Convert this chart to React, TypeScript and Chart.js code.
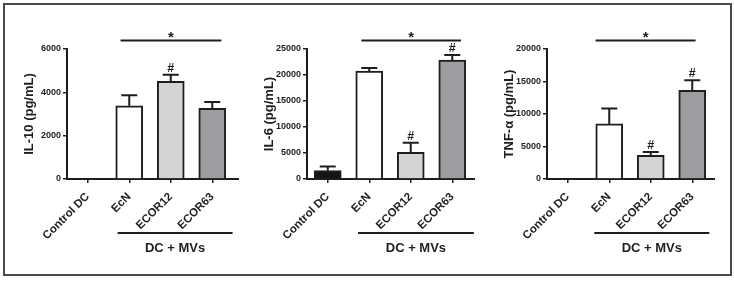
import React, { useEffect, useRef } from 'react';
import { Chart, registerables } from 'chart.js';

Chart.register(...registerables);

// ---------- data ----------
const categories = ['Control DC', 'EcN', 'ECOR12', 'ECOR63'];
const barColors = ['#141414', '#ffffff', '#d4d4d4', '#9c9ca1'];

const il10Mean = [0, 3380, 4510, 3260];
const il10Sem = [0, 480, 300, 290];
const il10Ticks = [0, 2000, 4000, 6000];
const il10Hash = ['ECOR12'];

const il6Mean = [1600, 20750, 5150, 22880];
const il6Sem = [780, 580, 1840, 970];
const il6Ticks = [0, 5000, 10000, 15000, 20000, 25000];
const il6Hash = ['ECOR12', 'ECOR63'];

const tnfMean = [0, 8480, 3640, 13650];
const tnfSem = [0, 2360, 500, 1530];
const tnfTicks = [0, 5000, 10000, 15000, 20000];
const tnfHash = ['ECOR12', 'ECOR63'];

const yTitles = ['IL-10 (pg/mL)', 'IL-6 (pg/mL)', 'TNF-\u03b1 (pg/mL)'];
const groupLabel = 'DC + MVs';
const starLabel = '*';
const hashLabel = '#';

// ---------- layout / style ----------
const FONT = "'Liberation Sans', Arial, Helvetica, sans-serif";
const INK = '#1e1e1e';
const CW = 240;
const CH = 281;

const panels = [
  { title: yTitles[0], mean: il10Mean, sem: il10Sem, ticks: il10Ticks, hash: il10Hash, left: 1, star: [0.79, 3.22], group: [0.72, 3.49], ext: 6 },
  { title: yTitles[1], mean: il6Mean, sem: il6Sem, ticks: il6Ticks, hash: il6Hash, left: 241, star: [0.81, 3.21], group: [0.73, 3.52], ext: 2 },
  { title: yTitles[2], mean: tnfMean, sem: tnfSem, ticks: tnfTicks, hash: tnfHash, left: 481, star: [0.67, 3.08], group: [0.64, 3.41], ext: 2 },
];

type PanelCfg = typeof panels[number];

function makeOverlay(p: PanelCfg) {
  return {
    id: 'overlay',
    afterDatasetsDraw(chart: any) {
      const ctx = chart.ctx;
      const xs = chart.scales.x;
      const ys = chart.scales.y;
      const area = chart.chartArea;
      ctx.save();
      ctx.strokeStyle = INK;
      ctx.fillStyle = INK;
      ctx.lineWidth = 2;
      ctx.lineCap = 'butt';

      // extend x axis line slightly
      ctx.beginPath();
      ctx.moveTo(area.right - 1, area.bottom);
      ctx.lineTo(area.right + p.ext, area.bottom);
      ctx.stroke();

      // error bars + hash marks
      p.mean.forEach((m, i) => {
        const s = p.sem[i];
        if (!s) return;
        const cx = xs.getPixelForValue(i);
        const y0 = ys.getPixelForValue(m);
        const y1 = ys.getPixelForValue(m + s);
        ctx.beginPath();
        ctx.moveTo(cx, y0);
        ctx.lineTo(cx, y1);
        ctx.moveTo(cx - 8, y1);
        ctx.lineTo(cx + 8, y1);
        ctx.stroke();
        if (p.hash.includes(categories[i])) {
          ctx.font = `bold 12.5px ${FONT}`;
          ctx.textAlign = 'center';
          ctx.textBaseline = 'alphabetic';
          ctx.fillText(hashLabel, cx, y1 - 3);
        }
      });

      // significance bracket with star
      const sx0 = xs.getPixelForValue(p.star[0]);
      const sx1 = xs.getPixelForValue(p.star[1]);
      const sy = 40.5;
      ctx.beginPath();
      ctx.moveTo(sx0, sy);
      ctx.lineTo(sx1, sy);
      ctx.stroke();
      ctx.font = `bold 15px ${FONT}`;
      ctx.textAlign = 'center';
      ctx.textBaseline = 'alphabetic';
      ctx.fillText(starLabel, (sx0 + sx1) / 2, sy + 1);

      // group line + label
      const gx0 = xs.getPixelForValue(p.group[0]);
      const gx1 = xs.getPixelForValue(p.group[1]);
      const gy = 233;
      ctx.beginPath();
      ctx.moveTo(gx0, gy);
      ctx.lineTo(gx1, gy);
      ctx.stroke();
      ctx.font = `bold 13px ${FONT}`;
      ctx.textBaseline = 'middle';
      ctx.fillText(groupLabel, (gx0 + gx1) / 2, 248);
      ctx.restore();
    },
  };
}

function Panel({ p }: { p: PanelCfg }) {
  const ref = useRef<HTMLCanvasElement>(null);
  useEffect(() => {
    if (!ref.current) return;
    const chart = new Chart(ref.current, {
      type: 'bar',
      data: {
        labels: categories,
        datasets: [
          {
            data: p.mean,
            backgroundColor: barColors,
            borderColor: INK,
            borderWidth: 2,
            barThickness: 27,
            borderSkipped: 'start',
          },
        ],
      },
      options: {
        responsive: false,
        animation: false,
        events: [],
        layout: { padding: { top: 49, bottom: 0, left: 0, right: CW - 66 - 166 } },
        plugins: { legend: { display: false }, tooltip: { enabled: false }, title: { display: false } },
        scales: {
          x: {
            type: 'category',
            offset: true,
            afterFit: (s: any) => { s.height = CH - 179; },
            grid: { offset: false, drawOnChartArea: false, drawTicks: true, tickLength: 4, color: INK, lineWidth: 1.5 },
            border: { display: true, color: INK, width: 2 },
            ticks: {
              minRotation: 45,
              maxRotation: 45,
              autoSkip: false,
              padding: 7,
              color: INK,
              font: { family: FONT, size: 11.5, weight: 'bold' },
            },
          },
          y: {
            type: 'linear',
            min: 0,
            max: p.ticks[p.ticks.length - 1],
            afterFit: (s: any) => { s.width = 66; },
            afterBuildTicks: (s: any) => { s.ticks = p.ticks.map((v) => ({ value: v })); },
            grid: { drawOnChartArea: false, drawTicks: true, tickLength: 4, color: INK, lineWidth: 1.5 },
            border: { display: true, color: INK, width: 2 },
            ticks: {
              padding: 2,
              color: INK,
              font: { family: FONT, size: 9, weight: 'bold' },
              callback: (v: any) => String(v),
            },
            title: {
              display: true,
              text: p.title,
              color: INK,
              padding: { top: 21, bottom: 0 },
              font: { family: FONT, size: 13, weight: 'bold' },
            },
          },
        },
      },
      plugins: [makeOverlay(p)],
    } as any);
    return () => chart.destroy();
  }, [p]);
  return (
    <canvas
      ref={ref}
      width={CW}
      height={CH}
      style={{ position: 'absolute', left: p.left, top: 0, width: CW, height: CH }}
    />
  );
}

export default function App() {
  return (
    <div style={{ position: 'absolute', left: 0, top: 0, width: 734, height: 281, background: '#fff', overflow: 'hidden' }}>
      <div
        style={{
          position: 'absolute',
          left: 3,
          top: 3,
          width: 729,
          height: 273,
          boxSizing: 'border-box',
          border: '2px solid #4a4a4a',
        }}
      />
      {panels.map((p, i) => (
        <Panel key={i} p={p} />
      ))}
    </div>
  );
}
